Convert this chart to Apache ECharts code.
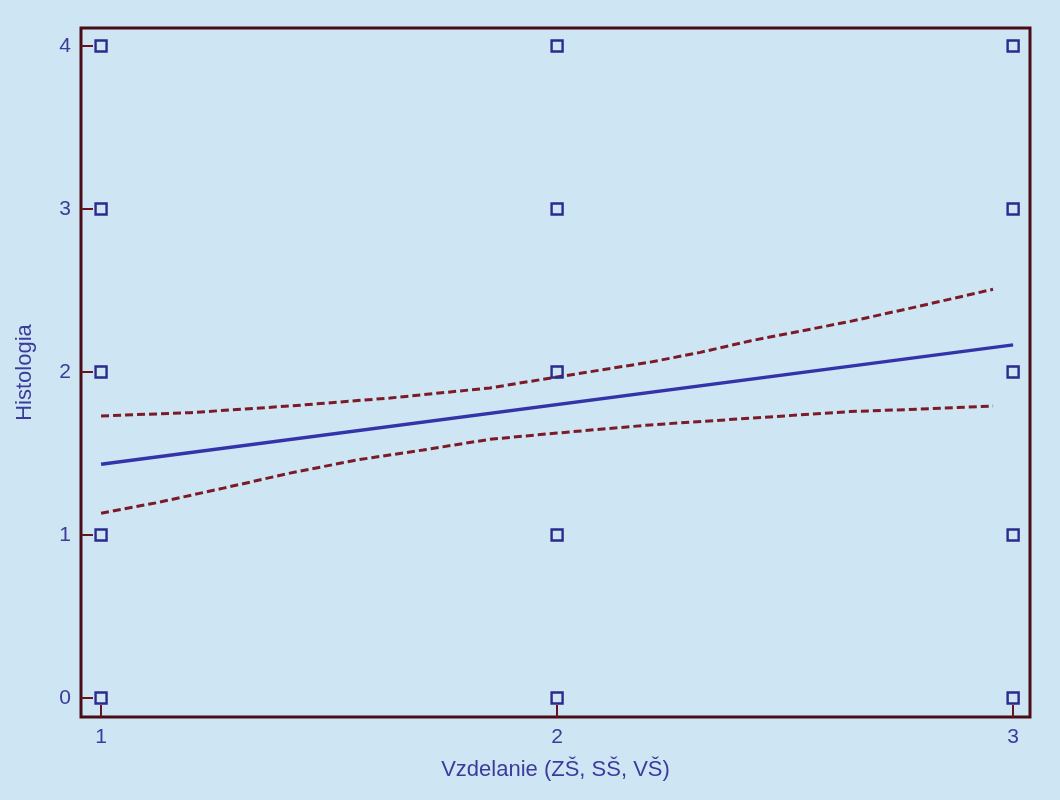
<!DOCTYPE html>
<html>
<head>
<meta charset="utf-8">
<script src="https://cdn.jsdelivr.net/npm/echarts@6/dist/echarts.min.js"></script>
<style>
html,body{margin:0;padding:0;background:#cee6f3;}
#chart{width:1060px;height:800px;}
</style>
</head>
<body>
<div id="chart"></div>
<script>
const xTicks = [1, 2, 3];
const yTicks = [0, 1, 2, 3, 4];
const scatterX = [1,1,1,1,1, 2,2,2,2,2, 3,3,3,3,3];
const scatterY = [0,1,2,3,4, 0,1,2,3,4, 0,1,2,3,4];
const fitX = [1, 3];
const fitY = [1.434, 2.166];
const upperX = [1, 1.195, 1.414, 1.634, 1.853, 2.0, 2.204, 2.314, 2.423, 2.643, 2.789, 2.956];
const upperY = [1.730, 1.750, 1.791, 1.840, 1.902, 1.969, 2.060, 2.120, 2.190, 2.310, 2.400, 2.507];
const lowerX = [1, 1.123, 1.268, 1.414, 1.561, 1.706, 1.853, 2.0, 2.204, 2.423, 2.643, 2.789, 2.956];
const lowerY = [1.133, 1.198, 1.287, 1.379, 1.460, 1.521, 1.587, 1.625, 1.675, 1.716, 1.757, 1.771, 1.791];

const zip = (a, b) => a.map((v, i) => [v, b[i]]);
const maroon = '#4a0d17';
const txt = '#3b3b9c';
const bg = '#cee6f3';
const font = 'Liberation Sans';

const chart = echarts.init(document.getElementById('chart'));
chart.setOption({
  backgroundColor: bg,
  animation: false,
  grid: {left: 81, top: 28, right: 30, bottom: 83, show: true, borderColor: maroon, borderWidth: 3, backgroundColor: 'transparent'},
  xAxis: {
    type: 'value', min: 0.956, max: 3.037,
    name: 'Vzdelanie (ZŠ, SŠ, VŠ)', nameLocation: 'middle', nameGap: 42,
    nameTextStyle: {color: txt, fontSize: 22, fontFamily: font},
    axisLine: {show: false, onZero: false},
    splitLine: {show: false},
    axisTick: {show: true, inside: true, length: 12, customValues: xTicks, lineStyle: {color: '#6a1420', width: 2}},
    axisLabel: {customValues: xTicks, color: txt, fontSize: 21, fontFamily: font, margin: 10}
  },
  yAxis: {
    type: 'value', min: -0.117, max: 4.11,
    name: 'Histologia', nameLocation: 'middle', nameGap: 45, nameRotate: 90,
    nameTextStyle: {color: txt, fontSize: 22, fontFamily: font},
    axisLine: {show: false, onZero: false},
    splitLine: {show: false},
    axisTick: {show: true, inside: true, length: 12, customValues: yTicks, lineStyle: {color: '#6a1420', width: 2}},
    axisLabel: {customValues: yTicks, color: txt, fontSize: 21, fontFamily: font, margin: 10}
  },
  series: [
    {type: 'line', data: zip(upperX, upperY), showSymbol: false, lineStyle: {color: '#7c1a28', width: 3, type: [8, 4]}, z: 2},
    {type: 'line', data: zip(lowerX, lowerY), showSymbol: false, lineStyle: {color: '#7c1a28', width: 3, type: [8, 4]}, z: 2},
    {type: 'line', data: zip(fitX, fitY), showSymbol: false, lineStyle: {color: '#3434aa', width: 3.5}, z: 3},
    {type: 'scatter', data: zip(scatterX, scatterY), symbol: 'rect', symbolSize: 11,
     itemStyle: {color: 'rgba(0,0,0,0)', borderColor: '#2b2b8e', borderWidth: 2.4, opacity: 1}, z: 4}
  ]
});
</script>
</body>
</html>
